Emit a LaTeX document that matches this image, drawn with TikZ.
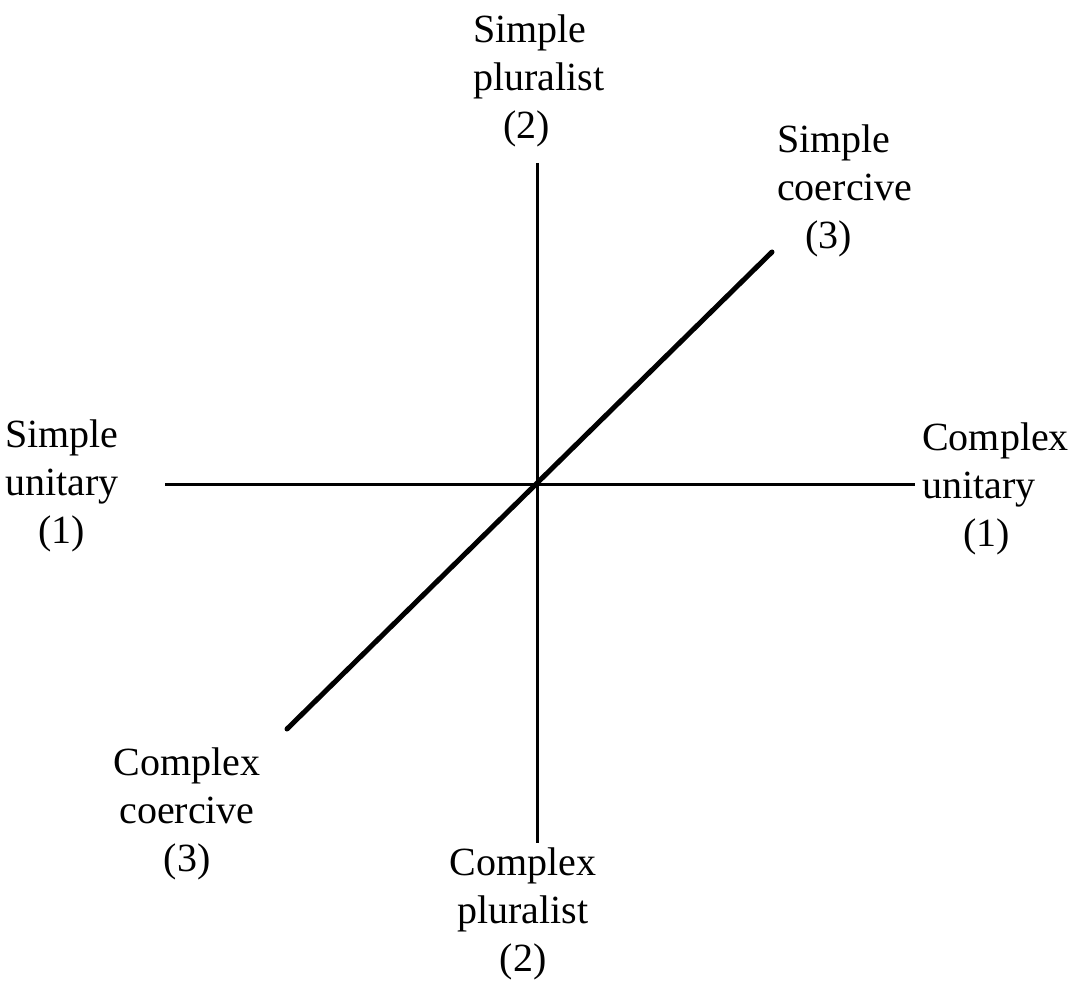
\documentclass[tikz,border=0pt]{standalone}
\usepackage{fontspec}
\setmainfont{Liberation Serif}
\begin{document}
\begin{tikzpicture}[x=1pt,y=-1pt,
  lbl/.style={align=center,inner sep=0pt,font=\fontsize{40}{48}\selectfont},
  lbll/.style={lbl,align=left,anchor=west},
  axis/.style={line width=3pt},
  diag/.style={line width=5pt,line cap=round}]
\useasboundingbox (0,0) rectangle (1074,987);
% axis end points
\coordinate (top) at (537,163);
\coordinate (bottom) at (537,843);
\coordinate (left) at (165,484);
\coordinate (right) at (915,484);
\coordinate (dlow) at (287,729);
\coordinate (dhigh) at (772,252);
% axes
\draw[axis] (top) -- (bottom);
\draw[axis] (left) -- (right);
\draw[diag] (dlow) -- (dhigh);
% pole labels
\node[lbll] (sp) at (473,81) {Simple\\pluralist\\\hspace*{30pt}(2)};
\node[lbll] (sc) at (777,191) {Simple\\coercive\\\hspace*{28pt}(3)};
\node[lbl] (su) at (62,486) {Simple\\unitary\\(1)};
\node[lbll] (cu) at (922,489) {Complex\\unitary\\\hspace*{41pt}(1)};
\node[lbl] (cc) at (187,814) {Complex\\coercive\\(3)};
\node[lbl] (cp) at (523,914) {Complex\\pluralist\\(2)};
\end{tikzpicture}
\end{document}
